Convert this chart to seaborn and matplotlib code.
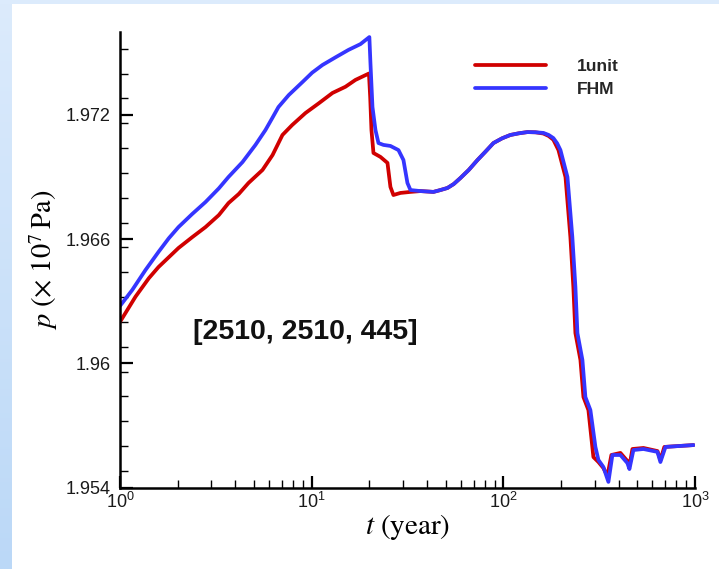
import numpy as np
import pandas as pd
import matplotlib
matplotlib.use("Agg")
import matplotlib.pyplot as plt
from matplotlib.ticker import FixedLocator, MultipleLocator, FuncFormatter, LogLocator, NullFormatter
import seaborn as sns

# Pressure history, single-unit model
t_1unit = [1.0, 1.205, 1.414, 1.588, 2.019, 2.379, 2.793, 3.278, 3.681, 4.166, 4.68, 5.54, 6.25,
           7.04, 7.91, 9.28, 10.89, 12.84, 15.01, 16.92,
           19.9, 20.2, 20.51, 21.01, 22.85, 24.86, 25.76, 26.7, 29.05, 32.77,
           36.95, 43.19, 46.97, 51.1, 55.1, 59.7, 66.0, 73.3, 80.6, 88.8, 98.6, 108.8, 120.3,
           133.6, 147.0, 161.8, 172.5, 182.4,
           193.9, 211.0, 223.8, 231.9, 237.7, 252.5, 261.8, 277.9, 295.1, 313.4,
           332.7, 349.2, 366.2, 408.2, 443.8, 454.9, 471.6, 538.3, 637.0, 660.0, 692.0, 983.0]
p_1unit = [1.96200, 1.96322, 1.96411, 1.96465, 1.96557, 1.96609, 1.96658, 1.96716, 1.96774,
           1.96818, 1.96871, 1.96934, 1.97006, 1.97103, 1.97151, 1.97209, 1.97256, 1.97306,
           1.97336, 1.97369,
           1.97400, 1.97286, 1.97127, 1.97016, 1.96997, 1.96968, 1.96852, 1.96813, 1.96823, 1.96828,
           1.96832, 1.96828, 1.96837, 1.96847, 1.96866, 1.96895, 1.96934, 1.96982, 1.97022,
           1.97064, 1.97087, 1.97103, 1.97111, 1.97117, 1.97116, 1.97110, 1.97098, 1.97080,
           1.97030, 1.96900, 1.96610, 1.96369, 1.96146, 1.96016, 1.95837, 1.95774, 1.95547, 1.95523,
           1.95494, 1.95456, 1.95557, 1.95567, 1.95528, 1.95504, 1.95586, 1.95591, 1.95576, 1.95533,
           1.95596, 1.95605]

# Pressure history, full heterogeneous model
t_fhm = [1.0, 1.158, 1.359, 1.588, 1.797, 2.019, 2.379, 2.793, 3.278, 3.681, 4.356, 5.09,
         5.74, 6.223, 6.71, 7.596, 8.96, 10.06, 11.38, 13.31, 15.56, 17.97,
         20.0, 20.26, 20.76, 21.52, 22.31, 23.69, 25.76, 28.37, 30.12, 31.6, 32.77,
         36.95, 43.19, 46.97, 51.1, 55.1, 59.7, 66.0, 73.3, 80.6, 88.8, 98.6, 108.8, 120.3,
         133.6, 147.0, 161.8, 172.5, 182.4, 190.8,
         198.6, 216.0, 229.1, 237.7, 243.5, 258.6, 268.0, 284.6, 302.3, 313.4,
         332.7, 353.4, 370.7, 408.2, 443.8, 454.9, 477.2, 538.3, 637.0, 660.0, 701.5, 983.0]
p_fhm = [1.96277, 1.96354, 1.96451, 1.96538, 1.96604, 1.96658, 1.96721, 1.96779, 1.96845,
         1.96900, 1.96972, 1.97055, 1.97127, 1.97184, 1.97238, 1.97296, 1.97359, 1.97404,
         1.97441, 1.97478, 1.97514, 1.97542,
         1.97576, 1.97451, 1.97238, 1.97127, 1.97064, 1.97055, 1.97050, 1.97030, 1.96982,
         1.96871, 1.96837,
         1.96832, 1.96828, 1.96837, 1.96847, 1.96866, 1.96895, 1.96934, 1.96982, 1.97022,
         1.97064, 1.97087, 1.97103, 1.97111, 1.97117, 1.97116, 1.97113, 1.97103, 1.97088, 1.97063,
         1.97030, 1.96900, 1.96610, 1.96369, 1.96146, 1.96016, 1.95837, 1.95774, 1.95596, 1.95533,
         1.95499, 1.95427, 1.95557, 1.95557, 1.95518, 1.95489, 1.95581, 1.95586, 1.95572, 1.95523,
         1.95596, 1.95605]

series_names = ["1unit", "FHM"]
series_colors = ["#D00000", "#3535FF"]
y_major_ticks = [1.954, 1.96, 1.966, 1.972]
annotation = "[2510, 2510, 445]"

df = pd.concat([
    pd.DataFrame({"t": t_1unit, "p": p_1unit, "model": series_names[0]}),
    pd.DataFrame({"t": t_fhm, "p": p_fhm, "model": series_names[1]}),
], ignore_index=True)

sns.set_theme(style="ticks")
plt.rcParams["font.family"] = ["Liberation Sans", "DejaVu Sans"]
plt.rcParams["mathtext.fontset"] = "stix"

fig = plt.figure(figsize=(7.19, 5.69), dpi=100)
fig.patch.set_facecolor("white")

# light blue slide frame along the left and top edges
edge = fig.add_axes([0, 0, 12 / 719, 1])
grad = np.linspace(0, 1, 256).reshape(-1, 1)
edge.imshow(grad, aspect="auto", cmap=matplotlib.colors.LinearSegmentedColormap.from_list(
    "edge", ["#DCEBFC", "#BBD8F7"]), extent=[0, 1, 0, 1], origin="upper")
edge.axis("off")
top = fig.add_axes([0, 1 - 4 / 569, 1, 4 / 569])
top.axis("off")
top.add_patch(plt.Rectangle((0, 0), 1, 1, transform=top.transAxes, color="#DCEBFC"))

ax = fig.add_axes([120 / 719, 1 - 487.5 / 569, 575 / 719, 455.4 / 569])
ax.set_facecolor("white")

sns.lineplot(data=df, x="t", y="p", hue="model", palette=dict(zip(series_names, series_colors)),
             estimator=None, sort=False, linewidth=2.7, ax=ax)
for ln in ax.get_lines():
    ln.set_solid_joinstyle("round")
    ln.set_solid_capstyle("round")

ax.set_xscale("log")
ax.set_xlim(1, 1000)
ax.set_ylim(1.954, 1.976)

ax.xaxis.set_major_locator(FixedLocator([1, 10, 100, 1000]))
ax.xaxis.set_major_formatter(FuncFormatter(lambda v, _: r"$\mathregular{10^{%d}}$" % round(np.log10(v))))
ax.xaxis.set_minor_locator(LogLocator(base=10, subs=np.arange(2, 10)))
ax.xaxis.set_minor_formatter(NullFormatter())

ax.yaxis.set_major_locator(FixedLocator(y_major_ticks))
ax.yaxis.set_major_formatter(FuncFormatter(lambda v, _: "%g" % round(v, 4)))
ax.yaxis.set_minor_locator(MultipleLocator(0.0012))

for side in ["top", "right"]:
    ax.spines[side].set_visible(False)
for side in ["left", "bottom"]:
    ax.spines[side].set_linewidth(1.8)
    ax.spines[side].set_color("black")

ax.tick_params(axis="both", which="major", direction="in", length=9, width=1.6,
               labelsize=13, colors="black", labelcolor="#1a1a1a")
ax.tick_params(axis="both", which="minor", direction="in", length=5.5, width=1.0, color="black")
ax.tick_params(axis="y", which="major", pad=6.5)
ax.tick_params(axis="x", which="major", pad=3.5)

ax.set_xlabel(r"$t\ (\mathrm{year})$", fontsize=21, labelpad=0, color="black")
ax.set_ylabel(r"$p\ (\times\ 10^{7}\,\mathrm{Pa})$", fontsize=20.5, labelpad=4, color="black")

ax.text(0.127, 0.3415, annotation, transform=ax.transAxes, ha="left", va="center",
        fontsize=20.5, fontweight="bold", color="#111111")

leg = ax.legend(loc="center left", bbox_to_anchor=(0.617, 0.9), frameon=False,
                handlelength=4.1, handletextpad=1.8, labelspacing=0.45,
                borderpad=0, borderaxespad=0,
                prop={"family": ["Liberation Sans"], "weight": "bold", "size": 12.5})
for line in leg.get_lines():
    line.set_linewidth(2.7)
leg.set_title(None)

fig.savefig("out.png", dpi=100, facecolor="white")
